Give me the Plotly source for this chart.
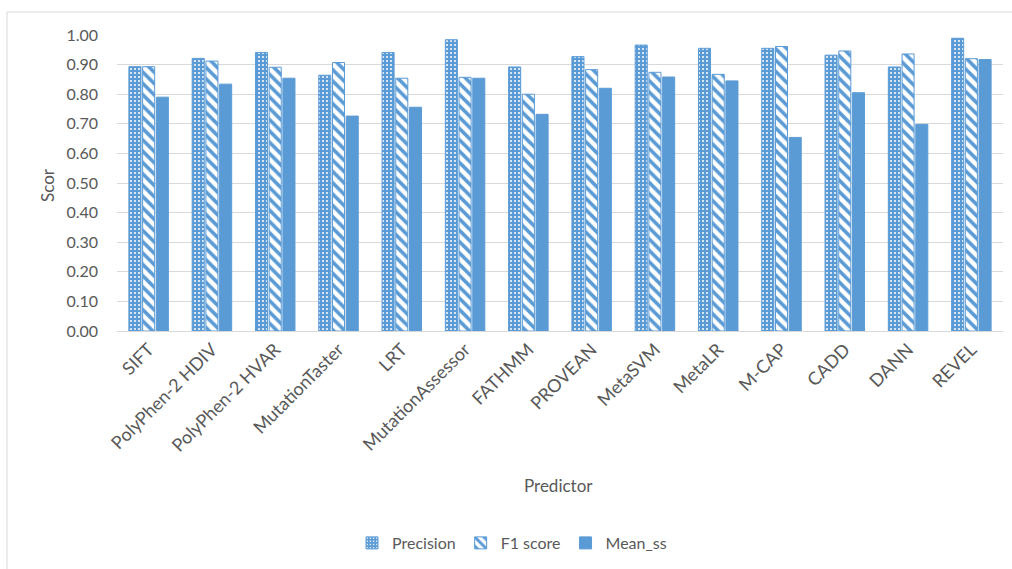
import plotly.graph_objects as go

# Predictor performance scores
predictors = ["SIFT", "PolyPhen-2 HDIV", "PolyPhen-2 HVAR", "MutationTaster", "LRT",
              "MutationAssessor", "FATHMM", "PROVEAN", "MetaSVM", "MetaLR",
              "M-CAP", "CADD", "DANN", "REVEL"]
precision = [0.893, 0.921, 0.941, 0.864, 0.941, 0.984, 0.892, 0.927, 0.966, 0.955,
             0.955, 0.932, 0.892, 0.989]
f1_score = [0.893, 0.912, 0.891, 0.907, 0.854, 0.857, 0.800, 0.883, 0.874, 0.867,
            0.961, 0.946, 0.936, 0.920]
mean_ss = [0.790, 0.834, 0.854, 0.726, 0.756, 0.854, 0.732, 0.820, 0.858, 0.845,
           0.654, 0.805, 0.698, 0.917]
y_ticks = [round(i * 0.1, 1) for i in range(11)]

BLUE = "#5B9BD5"
TEXT = "#595959"
GRID = "#D9D9D9"
FONT = "Lato"

fig = go.Figure()
fig.add_trace(go.Bar(
    name="Precision", x=predictors, y=precision,
    marker=dict(color=BLUE, line=dict(color=BLUE, width=1),
                pattern=dict(shape=".", fgcolor="white", bgcolor=BLUE,
                             size=4, solidity=0.2, fillmode="replace")),
))
fig.add_trace(go.Bar(
    name="F1 score", x=predictors, y=f1_score,
    marker=dict(color=BLUE, line=dict(color=BLUE, width=1),
                pattern=dict(shape="\\", fgcolor=BLUE, bgcolor="white",
                             size=8, solidity=0.45, fillmode="replace")),
))
fig.add_trace(go.Bar(
    name="Mean_ss", x=predictors, y=mean_ss,
    marker=dict(color=BLUE, line=dict(color=BLUE, width=1)),
))

L, R, T, B = 117, 9, 35, 238
W, H = 1012, 569
pw, ph = W - L - R, H - T - B


def px_x(x):
    return (x - L) / pw


def px_y(y):
    return (H - B - y) / ph


# thin outer frame around the chart area
fig.add_shape(type="rect", xref="paper", yref="paper",
              x0=px_x(7), x1=px_x(W + 5), y0=px_y(H + 2), y1=px_y(12),
              line=dict(color=GRID, width=1), fillcolor="rgba(0,0,0,0)", layer="below")

# axis titles
fig.add_annotation(text="Predictor", xref="paper", yref="paper",
                   x=px_x(558), y=px_y(485), showarrow=False,
                   xanchor="center", yanchor="middle",
                   font=dict(family=FONT, size=17, color=TEXT))
fig.add_annotation(text="Scor", xref="paper", yref="paper",
                   x=px_x(47), y=px_y(185), showarrow=False, textangle=-90,
                   xanchor="center", yanchor="middle",
                   font=dict(family=FONT, size=17, color=TEXT))

fig.update_layout(
    width=W, height=H,
    margin=dict(l=L, r=R, t=T, b=B, autoexpand=False),
    paper_bgcolor="white", plot_bgcolor="white",
    barmode="group", bargap=0.35, bargroupgap=0.12,
    font=dict(family=FONT, color=TEXT, size=16),
    showlegend=True,
    legend=dict(orientation="h", x=px_x(512), xanchor="center", y=px_y(543), yanchor="middle",
                font=dict(family=FONT, size=16, color=TEXT), itemwidth=30,
                traceorder="normal"),
    xaxis=dict(
        tickangle=-45, tickfont=dict(family=FONT, size=18, color=TEXT),
        showline=True, linecolor=GRID, linewidth=1, ticks="",
        automargin=False,
    ),
    yaxis=dict(
        range=[0, 1.0], tickvals=y_ticks, tickformat=".2f",
        tickfont=dict(family=FONT, size=16, color=TEXT),
        showgrid=True, gridcolor=GRID, gridwidth=1, zeroline=False,
        showline=False, ticks="", ticklabelstandoff=18,
        automargin=False,
    ),
)

fig.write_html("out.html")
